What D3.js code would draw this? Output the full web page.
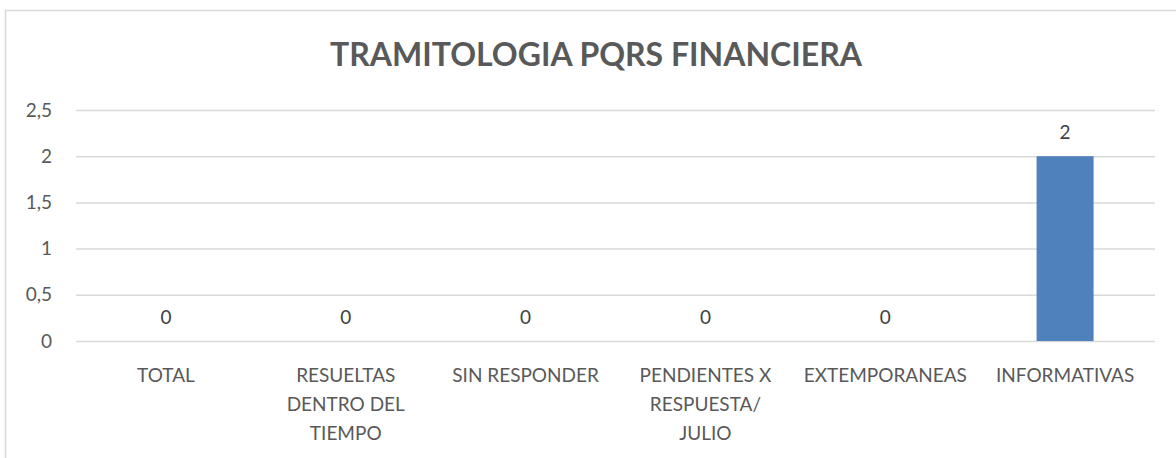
<!DOCTYPE html>
<html>
<head>
<meta charset="utf-8">
<script src="https://cdn.jsdelivr.net/npm/d3@7"></script>
<style>
  body { margin: 0; background: #fff; }
  svg { display: block; font-family: Lato, "Open Sans", sans-serif; }
</style>
</head>
<body>
<svg id="chart"></svg>
<script>
// chart data
let categories = ["TOTAL", "RESUELTAS\nDENTRO DEL\nTIEMPO", "SIN RESPONDER", "PENDIENTES X\nRESPUESTA/\nJULIO", "EXTEMPORANEAS", "INFORMATIVAS"];
let values = [0, 0, 0, 0, 0, 2];
let yTicks = [0, 0.5, 1, 1.5, 2, 2.5];
let title = "TRAMITOLOGIA PQRS FINANCIERA";

let svg = d3.select("svg#chart").attr("width", 1176).attr("height", 458);
let padding = { "top": 110, "bottom": 117, "left": 76, "right": 21 };
let plotW = 1176 - padding.left - padding.right;
let plotH = 458 - padding.top - padding.bottom;

// outer chart border (runs off the right and bottom edge)
svg.append("rect").attr("x", 5.5).attr("y", 10.5).attr("width", 1180).attr("height", 460)
  .attr("fill", "none").attr("stroke", "#d9d9d9").attr("stroke-width", 1.5);

let xScale = d3.scaleBand().domain(categories).range([0, plotW]).paddingInner(0.683).paddingOuter(0.3415);
let yScale = d3.scaleLinear().domain([0, 2.5]).range([plotH, 0]);

let g = svg.append("g").attr("transform", "translate(" + padding.left + "," + padding.top + ")");

// gridlines
let yGrid = d3.axisLeft(yScale).tickValues(yTicks).tickSize(-plotW).tickFormat("");
g.append("g").attr("class", "gridlines").call(yGrid)
  .call(s => s.select(".domain").remove())
  .selectAll("line").attr("stroke", "#d9d9d9").attr("stroke-width", 1.5);

// y axis labels
let yAxis = d3.axisLeft(yScale).tickValues(yTicks).tickSize(0).tickPadding(24)
  .tickFormat(d => String(d).replace(".", ","));
g.append("g").call(yAxis)
  .call(s => s.select(".domain").remove())
  .selectAll("text").style("font-size", "19px").style("font-family", "Lato, sans-serif").attr("fill", "#595959");

// bars
g.selectAll("rect.bar").data(values).enter().append("rect")
  .attr("class", "bar")
  .attr("x", (d, i) => xScale(categories[i]))
  .attr("width", xScale.bandwidth())
  .attr("y", d => yScale(d))
  .attr("height", d => plotH - yScale(d))
  .attr("fill", "#4f81bd");

// value labels
g.selectAll("text.val").data(values).enter().append("text")
  .attr("class", "val")
  .attr("x", (d, i) => xScale(categories[i]) + xScale.bandwidth() / 2)
  .attr("y", d => yScale(d) - 17)
  .attr("text-anchor", "middle")
  .style("font-size", "19px").attr("fill", "#404040")
  .text(d => d);

// category labels
let xAxis = d3.axisBottom(xScale).tickSize(0).tickFormat("");
let xg = g.append("g").attr("transform", "translate(0," + plotH + ")").call(xAxis);
xg.select(".domain").remove();
xg.selectAll(".tick").each(function(d) {
  let t = d3.select(this).append("text")
    .attr("text-anchor", "middle")
    .attr("fill", "#595959")
    .style("font-family", "Lato, sans-serif")
    .style("font-size", "19px");
  d.split("\n").forEach(function(line, i) {
    t.append("tspan").attr("x", 0).attr("y", 41 + i * 29).text(line);
  });
});

// title
svg.append("text")
  .attr("x", 596).attr("y", 66)
  .attr("text-anchor", "middle")
  .style("font-size", "32px").style("font-weight", "bold")
  .attr("fill", "#595959")
  .text(title);
</script>
</body>
</html>
